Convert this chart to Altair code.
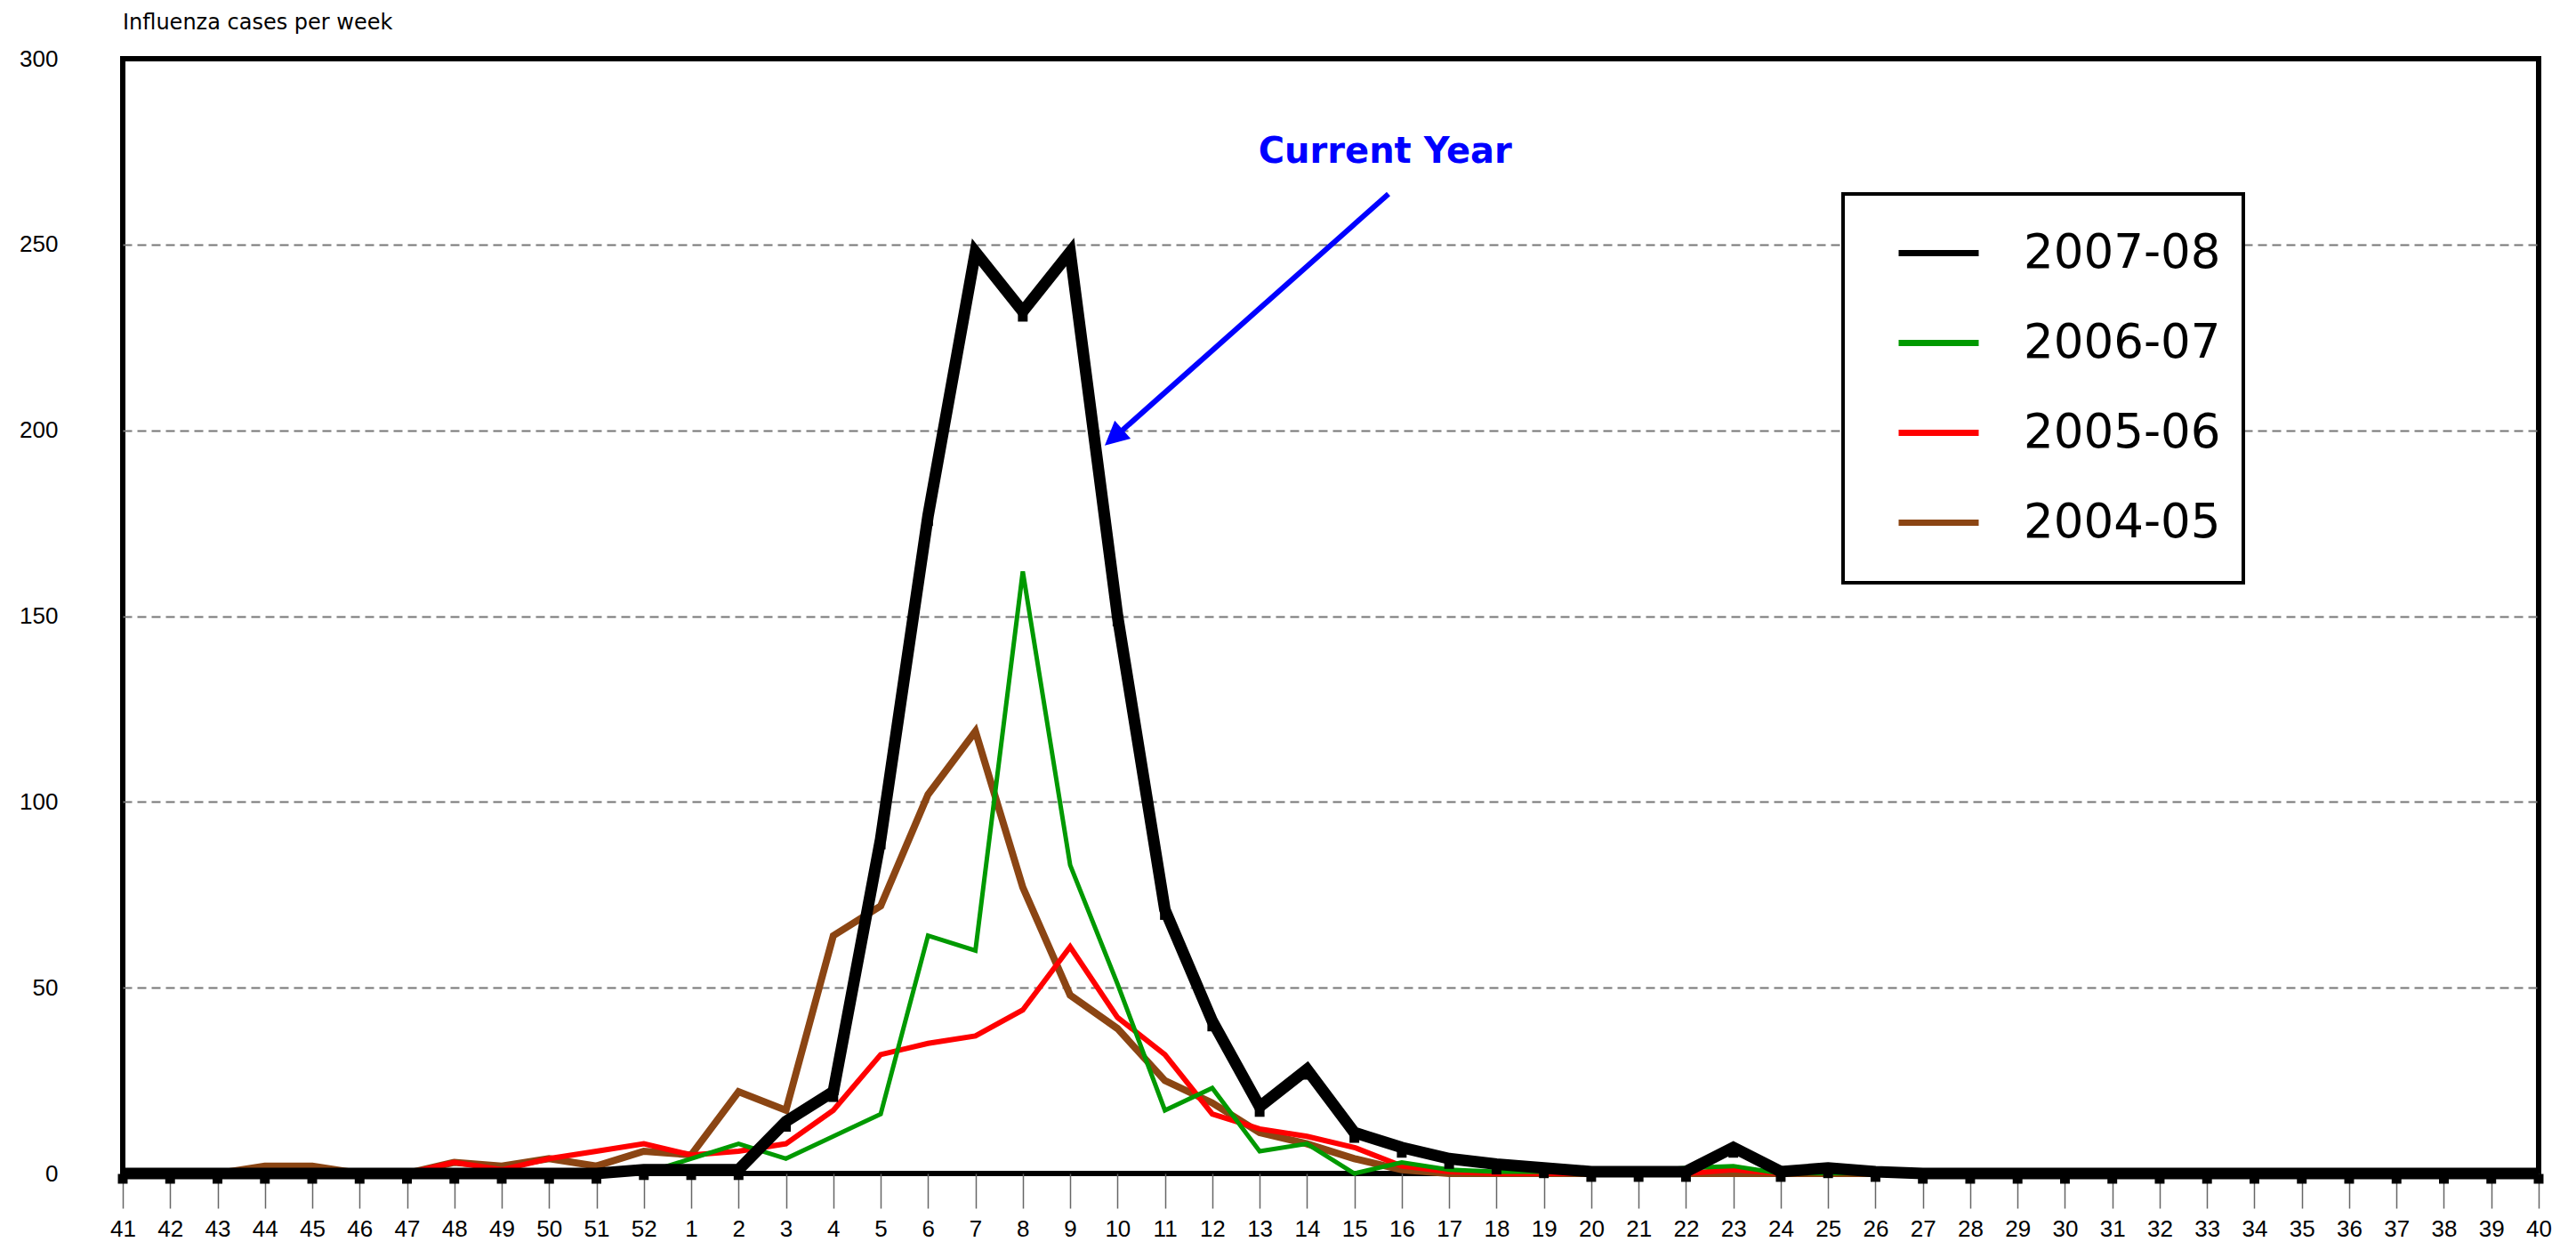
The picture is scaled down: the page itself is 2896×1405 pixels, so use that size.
import json
import altair as alt
import pandas as pd

# ---------------- data ----------------
weeks = ["41", "42", "43", "44", "45", "46", "47", "48", "49", "50", "51", "52",
         "1", "2", "3", "4", "5", "6", "7", "8", "9", "10", "11", "12", "13", "14",
         "15", "16", "17", "18", "19", "20", "21", "22", "23", "24", "25", "26", "27",
         "28", "29", "30", "31", "32", "33", "34", "35", "36", "37", "38", "39", "40"]

cases_2007_08 = [0, 0, 0, 0, 0, 0, 0, 0, 0, 0, 0, 1,
                 1, 1, 14, 22, 90, 177, 248, 232, 248, 150, 71, 41, 18, 28,
                 11, 7, 4, 2.5, 1.5, 0.5, 0.5, 0.5, 7, 0.5, 1.5, 0.5, 0,
                 0, 0, 0, 0, 0, 0, 0, 0, 0, 0, 0, 0, 0]
cases_2006_07 = [0, 0, 0, 0, 0, 0, 0, 0, 0, 0, 0, 0,
                 4, 8, 4, 10, 16, 64, 60, 162, 83, 51, 17, 23, 6, 8,
                 0, 3, 1, 0.5, 0.5, 0.5, 0.5, 1.5, 2, 0, 0, 0, 0,
                 0, 0, 0, 0, 0, 0, 0, 0, 0, 0, 0, 0, 0]
cases_2005_06 = [0, 0, 0, 0, 0, 0, 0, 3, 1, 4, 6, 8,
                 5, 6, 8, 17, 32, 35, 37, 44, 61, 42, 32, 16, 12, 10,
                 7, 2, 0.5, 0, 0, 0, 0, 0, 1, 0, 0, 0, 0,
                 0, 0, 0, 0, 0, 0, 0, 0, 0, 0, 0, 0, 0]
cases_2004_05 = [0, 0, 0, 2, 2, 0, 0, 3, 2, 4, 2, 6,
                 5, 22, 17, 64, 72, 102, 119, 77, 48, 39, 25, 19, 11, 8,
                 4, 1, 0, 0, 0, 0, 0, 0, 0, 0, 0, 0, 0,
                 0, 0, 0, 0, 0, 0, 0, 0, 0, 0, 0, 0, 0]

seasons = ["2007-08", "2006-07", "2005-06", "2004-05"]
season_values = [cases_2007_08, cases_2006_07, cases_2005_06, cases_2004_05]
season_colors = ["#000000", "#009900", "#FF0000", "#8B4513"]
season_widths = [13, 5, 6, 8]

annotation_text = "Current Year"
y_ticks = [0, 50, 100, 150, 200, 250, 300]

rows = []
for s, vals in zip(seasons, season_values):
    for i, (w, v) in enumerate(zip(weeks, vals)):
        rows.append({"season": s, "idx": i, "week": w, "cases": v})
df = pd.DataFrame(rows)

# annotation anchor positions (in data units)
label_df = pd.DataFrame({"idx": [26.65], "cases": [274.8], "label": [annotation_text]})
arrow_df = pd.DataFrame({"idx": [26.72], "cases": [263.6], "idx2": [21.01], "cases2": [198.96]})
head_df = pd.DataFrame({"idx": [20.73], "cases": [195.9]})

AXIS_FONT = "Liberation Sans"
TEXT_FONT = "DejaVu Sans"
label_expr = json.dumps(weeks) + "[datum.value]"

x_enc = alt.X(
    "idx:Q",
    scale=alt.Scale(domain=[0, len(weeks) - 1], nice=False, zero=False),
    axis=alt.Axis(values=list(range(len(weeks))), labelExpr=label_expr, grid=False,
                  domain=False, tickColor="#666666", tickWidth=1.5, tickSize=39,
                  labelPadding=10, labelFontSize=26, labelFont=AXIS_FONT, labelColor="black",
                  labelAngle=0, labelFlush=False, labelOverlap=False, labelBound=False,
                  title=None),
)
y_enc = alt.Y(
    "cases:Q",
    scale=alt.Scale(domain=[0, 300], nice=False),
    axis=alt.Axis(values=y_ticks, grid=True, gridDash=[10, 6], gridColor="#777777",
                  gridWidth=2,
                  gridOpacity={"condition": {"test": "datum.value === 0 || datum.value === 300",
                                             "value": 0}, "value": 1},
                  ticks=False, domain=False, labelPadding=73, labelFontSize=26,
                  labelFont=AXIS_FONT, labelColor="black", labelFlush=False, title=None),
)

legend = alt.Legend(
    orient="none", legendX=1934, legendY=152,
    title=" ", titleOrient="right", titleFont=AXIS_FONT, titleFontSize=405,
    titleBaseline="top", titleAnchor="start", titlePadding=8, titleLimit=0,
    strokeColor="black", fillColor="white",
    padding=18, symbolType="stroke", symbolSize=8100, symbolStrokeWidth=7,
    symbolOffset=41, labelOffset=47, rowPadding=25, labelFontSize=53, labelLimit=0,
    labelFont=TEXT_FONT, labelColor="black",
)

color_enc = alt.Color("season:N", scale=alt.Scale(domain=seasons, range=season_colors),
                      legend=legend)


def season_line(i):
    return (
        alt.Chart(df)
        .transform_filter(alt.datum.season == seasons[i])
        .mark_line(strokeJoin="miter", strokeWidth=season_widths[i])
        .encode(x=x_enc, y=y_enc, color=color_enc)
    )


# draw order: 2004-05 bottom, then 2005-06, 2006-07, 2007-08 on top
lines = [season_line(3), season_line(2), season_line(1), season_line(0)]

squares = (
    alt.Chart(df)
    .transform_filter(alt.datum.season == seasons[0])
    .mark_square(size=120, color="black", opacity=1, yOffset=6)
    .encode(x=x_enc, y=y_enc)
)

arrow = (
    alt.Chart(arrow_df)
    .mark_rule(color="#0000FF", strokeWidth=6)
    .encode(x=x_enc, y=y_enc, x2="idx2:Q", y2="cases2:Q")
)
head = (
    alt.Chart(head_df)
    .mark_point(shape="M0,0L-0.5,1L0.5,1Z", size=2916, angle=228.4, filled=True,
                color="#0000FF", opacity=1, strokeWidth=0)
    .encode(x=x_enc, y=y_enc)
)
text = (
    alt.Chart(label_df)
    .mark_text(font=TEXT_FONT, fontSize=40, fontWeight="bold", color="#0000FF",
               align="center", baseline="middle")
    .encode(x=x_enc, y=y_enc, text="label:N")
)

chart = (
    alt.layer(*lines, squares, arrow, head, text)
    .properties(
        width=2716, height=1253,
        autosize=alt.AutoSizeParams(type="none"),
        padding={"left": 130, "top": 58, "right": 33, "bottom": 78},
        title=alt.TitleParams("Influenza cases per week", anchor="start", frame="group",
                              fontSize=24, font=TEXT_FONT, fontWeight="normal", color="black",
                              offset=15),
    )
    .configure_view(stroke="black", strokeWidth=6)
    .configure_legend(strokeWidth=4)
)

chart.save("out.html", embed_options={"renderer": "svg", "actions": False})
